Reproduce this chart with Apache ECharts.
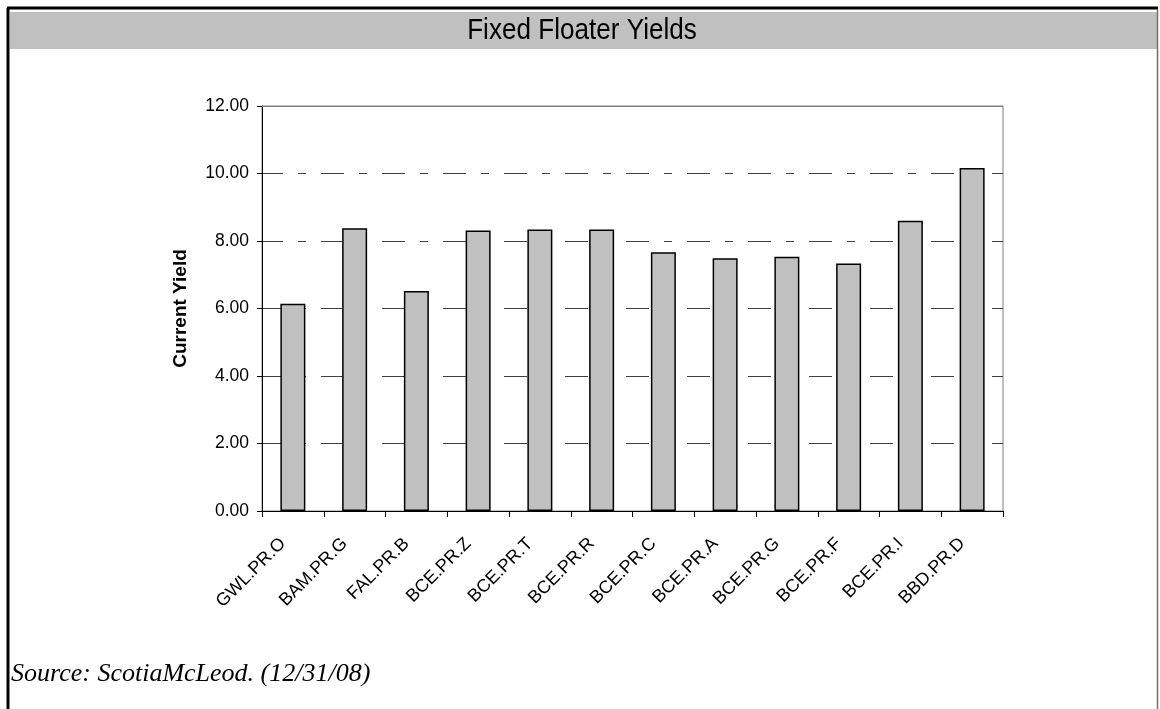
<!DOCTYPE html>
<html>
<head>
<meta charset="utf-8">
<title>Fixed Floater Yields</title>
<script src="https://cdn.jsdelivr.net/npm/echarts@6/dist/echarts.min.js"></script>
<style>
  html, body { margin: 0; padding: 0; background: #fff; }
  #chart { width: 1160px; height: 709px; }
</style>
</head>
<body>
<div id="chart"></div>
<script>
// Preferred shares (fixed floaters) and their current yields, %
const tickers = ['GWL.PR.O', 'BAM.PR.G', 'FAL.PR.B', 'BCE.PR.Z', 'BCE.PR.T', 'BCE.PR.R',
                 'BCE.PR.C', 'BCE.PR.A', 'BCE.PR.G', 'BCE.PR.F', 'BCE.PR.I', 'BBD.PR.D'];
const currentYield = [6.14, 8.38, 6.52, 8.31, 8.34, 8.34, 7.67, 7.49, 7.53, 7.33, 8.60, 10.16];
const yMin = 0;
const yMax = 12;
const yStep = 2;

const titleText = 'Fixed Floater Yields';
const yName = 'Current Yield';
const sourceText = 'Source: ScotiaMcLeod. (12/31/08)';

const chart = echarts.init(document.getElementById('chart'), null, { renderer: 'canvas' });

const sans = 'Arial, "Liberation Sans", sans-serif';

chart.setOption({
  animation: false,
  backgroundColor: '#ffffff',
  grid: {
    left: 262, top: 106, width: 741, height: 405,
    show: true, borderColor: '#808080', borderWidth: 1, backgroundColor: 'transparent'
  },
  xAxis: {
    type: 'category',
    data: tickers,
    boundaryGap: true,
    axisLine: { lineStyle: { color: '#000', width: 1 } },
    axisTick: { show: true, length: 6, interval: 0, lineStyle: { color: '#000' } },
    axisLabel: {
      interval: 0, rotate: 45, margin: 20,
      padding: [0, 14, 0, 0],
      fontFamily: sans, fontSize: 18, color: '#000'
    },
    splitLine: { show: false }
  },
  yAxis: {
    type: 'value',
    min: yMin, max: yMax, interval: yStep,
    name: yName,
    nameLocation: 'middle',
    nameGap: 72,
    nameTextStyle: { fontFamily: sans, fontSize: 19, fontWeight: 'bold', color: '#000' },
    axisLine: { show: true, lineStyle: { color: '#000', width: 1 } },
    axisTick: { show: true, length: 5, lineStyle: { color: '#000' } },
    axisLabel: {
      margin: 13, fontFamily: sans, fontSize: 17.5, color: '#000',
      formatter: v => v.toFixed(2)
    },
    splitLine: {
      show: true,
      lineStyle: { color: '#404040', width: 1, type: [23, 15, 8, 15], dashOffset: 2 }
    }
  },
  series: [{
    type: 'bar',
    data: currentYield,
    barWidth: 25,
    itemStyle: { color: '#c0c0c0', borderColor: '#000', borderWidth: 1.5 },
    emphasis: { disabled: true },
    // solid top edge of the plot frame
    markLine: {
      silent: true,
      symbol: 'none',
      label: { show: false },
      lineStyle: { color: '#808080', width: 1.2, type: 'solid' },
      data: [{ yAxis: yMax }]
    }
  }],
  graphic: [
    // header band
    { type: 'rect', shape: { x: 10, y: 12, width: 1147, height: 37 },
      style: { fill: '#c0c0c0' }, silent: true, z: -1 },
    // outer frame
    { type: 'line', shape: { x1: 8, y1: 8, x2: 8, y2: 709 },
      style: { stroke: '#000', lineWidth: 3 }, silent: true },
    { type: 'line', shape: { x1: 7, y1: 8, x2: 1158, y2: 8 },
      style: { stroke: '#000', lineWidth: 3 }, silent: true },
    { type: 'line', shape: { x1: 1157.5, y1: 9, x2: 1157.5, y2: 709 },
      style: { stroke: '#707070', lineWidth: 1.5 }, silent: true },
    // title
    { type: 'text', x: 582, y: 31, originX: 0, originY: 0, scaleX: 0.9,
      style: { text: titleText, fontFamily: sans, fontSize: 29, fill: '#000',
               textAlign: 'center', textVerticalAlign: 'middle' }, silent: true },
    // source note
    { type: 'text', x: 11, y: 674,
      style: { text: sourceText, fontFamily: '"Liberation Serif", "Times New Roman", serif',
               fontStyle: 'italic', fontSize: 26, fill: '#000',
               textAlign: 'left', textVerticalAlign: 'middle' }, silent: true }
  ]
});
</script>
</body>
</html>
